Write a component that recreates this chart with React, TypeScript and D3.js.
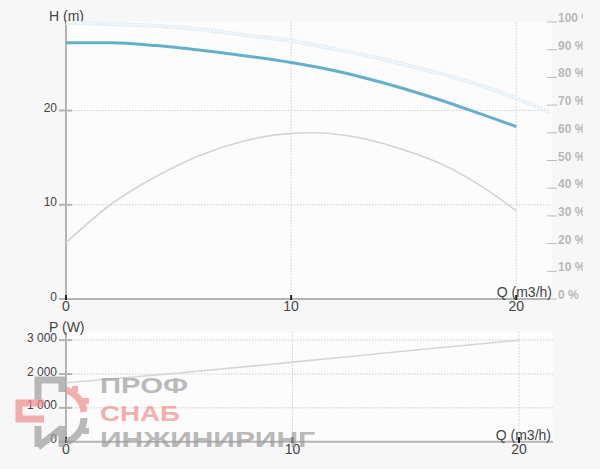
import React from "react";
import * as d3 from "d3";

// ---- data ----
const qTicks = [0, 10, 20];
const hTicks = [0, 10, 20];
const pctTicks = [0, 10, 20, 30, 40, 50, 60, 70, 80, 90, 100];
const pTicks = [0, 1000, 2000, 3000];

const headQ = [0, 2, 4, 6, 8, 10, 12, 14, 16, 18, 20];
const headH = [27.2, 27.2, 26.9, 26.4, 25.8, 25.1, 24.2, 23.0, 21.6, 20.0, 18.3];

const maxQ = [0, 2, 4, 6, 8, 10, 12, 14, 16, 18, 20, 21.5];
const maxH = [29.3, 29.2, 29.0, 28.6, 28.0, 27.4, 26.5, 25.5, 24.3, 23.0, 21.3, 19.8];

const effQ = [0, 2, 4, 6, 8, 10, 11, 12, 13, 14, 15, 16, 17, 18, 19, 20];
const effE = [20.3, 34.2, 44.2, 52, 57.2, 59.8, 60, 59.5, 58.3, 56.3, 53.8, 51, 47.5, 43, 37.8, 31.8];

const powQ = [0, 5, 10, 15, 20];
const powP = [1740, 2030, 2350, 2680, 3000];

const fmtP = (v: number) => d3.format(",")(v).replace(/,/g, " ");

export default function App() {
  const font = "'Liberation Sans', Arial, sans-serif";
  // top chart scales
  const xTop = d3.scaleLinear().domain([0, 21.5]).range([66, 550]);
  const yH = d3.scaleLinear().domain([0, 29.4]).range([299, 22]);
  const yPct = d3.scaleLinear().domain([0, 100]).range([299, 22]);
  // bottom chart scales
  const xBot = d3.scaleLinear().domain([0, 21.5]).range([66, 553]);
  const yP = d3.scaleLinear().domain([0, 3300]).range([441.7, 330]);

  const lineH = d3.line<number>().x((d, i) => xTop(headQ[i])).y((d) => yH(d)).curve(d3.curveMonotoneX);
  const lineMax = d3.line<number>().x((d, i) => xTop(maxQ[i])).y((d) => yH(d)).curve(d3.curveMonotoneX);
  const lineEff = d3.line<number>().x((d, i) => xTop(effQ[i])).y((d) => yPct(d)).curve(d3.curveMonotoneX);
  const lineP = d3.line<number>().x((d, i) => xBot(powQ[i])).y((d) => yP(d)).curve(d3.curveMonotoneX);

  const axisCol = "#b4b4b4";
  const gridCol = "#cfcfcf";
  const textCol = "#444";

  return (
    <svg width={600} height={469} style={{ position: "absolute", left: 0, top: 0, fontFamily: font }}>
      <defs>
        <clipPath id="rclip">
          <rect x={0} y={0} width={583} height={469} />
        </clipPath>
      </defs>
      <rect x={0} y={0} width={600} height={469} fill="#f7f7f7" />
      {/* plot backgrounds */}
      <rect x={66} y={22} width={486} height={277} fill="#fcfcfc" />
      <rect x={66} y={332} width={487} height={110} fill="#fcfcfc" />

      {/* ---------- TOP CHART ---------- */}
      {hTicks.filter((t) => t > 0).map((t) => (
        <line key={"hg" + t} x1={66} x2={550} y1={yH(t)} y2={yH(t)} stroke={gridCol} strokeDasharray="1.5,1.5" />
      ))}
      {qTicks.filter((t) => t > 0).map((t) => (
        <line key={"qg" + t} x1={xTop(t)} x2={xTop(t)} y1={22} y2={299} stroke={gridCol} strokeDasharray="1.5,1.5" />
      ))}
      {/* left axis */}
      <line x1={66} x2={66} y1={20} y2={299} stroke={axisCol} strokeWidth={2} />
      {hTicks.map((t) => (
        <g key={"ht" + t}>
          <line x1={59} x2={72} y1={yH(t)} y2={yH(t)} stroke={axisCol} strokeWidth={2} />
          <text x={57} y={yH(t) + 1.5} textAnchor="end" fontSize={12} fill={textCol}>{t}</text>
        </g>
      ))}
      <text x={49} y={21} fontSize={14} fill={textCol}>H (m)</text>

      {/* right percent axis */}
      <g clipPath="url(#rclip)">
        {pctTicks.map((t) => (
          <g key={"pt" + t}>
            <line x1={547} x2={557} y1={yPct(t)} y2={yPct(t)} stroke="#bbbbbb" strokeWidth={1} />
            <text x={558} y={yPct(t)} fontSize={12} fontWeight="bold" fill="#b8b8b8">{t + " %"}</text>
          </g>
        ))}
      </g>

      {/* curves */}
      <path d={lineMax(maxH) || ""} fill="none" stroke="#e4eff5" strokeWidth={4} />
      <path d={lineMax(maxH) || ""} fill="none" stroke="#f6fafc" strokeWidth={2} strokeDasharray="2,1.5" />
      <path d={lineEff(effE) || ""} fill="none" stroke="#d4d4d4" strokeWidth={1.6} />
      <path d={lineH(headH) || ""} fill="none" stroke="#66afcb" strokeWidth={3} />

      {/* bottom axis */}
      <line x1={66} x2={550} y1={299} y2={299} stroke={axisCol} strokeWidth={2} />
      {qTicks.map((t) => (
        <g key={"qt" + t}>
          <line x1={xTop(t)} x2={xTop(t)} y1={295} y2={300} stroke="#222" strokeWidth={2} />
          <text x={xTop(t)} y={311} textAnchor="middle" fontSize={14} fill={textCol}>{t}</text>
        </g>
      ))}
      <text x={552} y={297} textAnchor="end" fontSize={14} fill={textCol}>Q (m3/h)</text>

      {/* ---------- BOTTOM CHART ---------- */}
      {pTicks.filter((t) => t > 0).map((t) => (
        <line key={"pg" + t} x1={66} x2={553} y1={yP(t)} y2={yP(t)} stroke={gridCol} strokeDasharray="1.5,1.5" />
      ))}
      {qTicks.filter((t) => t > 0).map((t) => (
        <line key={"qg2" + t} x1={xBot(t)} x2={xBot(t)} y1={332} y2={442} stroke={gridCol} strokeDasharray="1.5,1.5" />
      ))}
      <line x1={66} x2={66} y1={332} y2={442} stroke={axisCol} strokeWidth={2} />
      {pTicks.map((t) => (
        <g key={"pk" + t}>
          <line x1={59} x2={72} y1={yP(t)} y2={yP(t)} stroke={axisCol} strokeWidth={2} />
          <text x={57} y={yP(t) + 1.5} textAnchor="end" fontSize={12} fill={textCol}>{fmtP(t)}</text>
        </g>
      ))}
      <text x={49} y={332} fontSize={14} fill={textCol}>P (W)</text>
      <path d={lineP(powP) || ""} fill="none" stroke="#d6d6d6" strokeWidth={1.6} />
      <line x1={66} x2={553} y1={441.7} y2={441.7} stroke={axisCol} strokeWidth={2} />
      {qTicks.map((t) => (
        <g key={"qb" + t}>
          <line x1={xBot(t)} x2={xBot(t)} y1={437} y2={443} stroke="#222" strokeWidth={2} />
          <text x={xBot(t)} y={454} textAnchor="middle" fontSize={14} fill={textCol}>{t}</text>
        </g>
      ))}
      <text x={551} y={440} textAnchor="end" fontSize={14} fill={textCol}>Q (m3/h)</text>

      {/* ---------- WATERMARK ---------- */}
      <g opacity={0.68}>
        {/* gray П shape */}
        <path d="M38,404 L38,380 L62,380 L62,392" fill="none" stroke="#9a9a9a" strokeWidth={7} />
        {/* red С shape */}
        <path d="M44,403 L19,403 L19,419 L44,419" fill="none" stroke="#ef8a8a" strokeWidth={7} />
        {/* gray И shape */}
        <path d="M38,426 L38,447 M38,447 L62,428 M62,426 L62,447" fill="none" stroke="#9a9a9a" strokeWidth={7} />
        {/* gear */}
        <path d="M66,390 A26,26 0 0 1 84,412" fill="none" stroke="#ef8a8a" strokeWidth={7} />
        <path d="M84,418 A26,26 0 0 1 66,442" fill="none" stroke="#9a9a9a" strokeWidth={7} />
        <rect x={72} y={386} width={6} height={6} fill="#ef8a8a" />
        <rect x={83} y={398} width={6} height={6} fill="#ef8a8a" />
        <rect x={83} y={428} width={6} height={6} fill="#9a9a9a" />
        <text x={100} y={393} fontSize={22} fontWeight="bold" fill="#9a9a9a" textLength={88} lengthAdjust="spacingAndGlyphs">ПРОФ</text>
        <text x={100} y={421} fontSize={22} fontWeight="bold" fill="#ef8a8a" textLength={80} lengthAdjust="spacingAndGlyphs">СНАБ</text>
        <text x={100} y={447} fontSize={22} fontWeight="bold" fill="#9a9a9a" textLength={215} lengthAdjust="spacingAndGlyphs">ИНЖИНИРИНГ</text>
      </g>
    </svg>
  );
}
